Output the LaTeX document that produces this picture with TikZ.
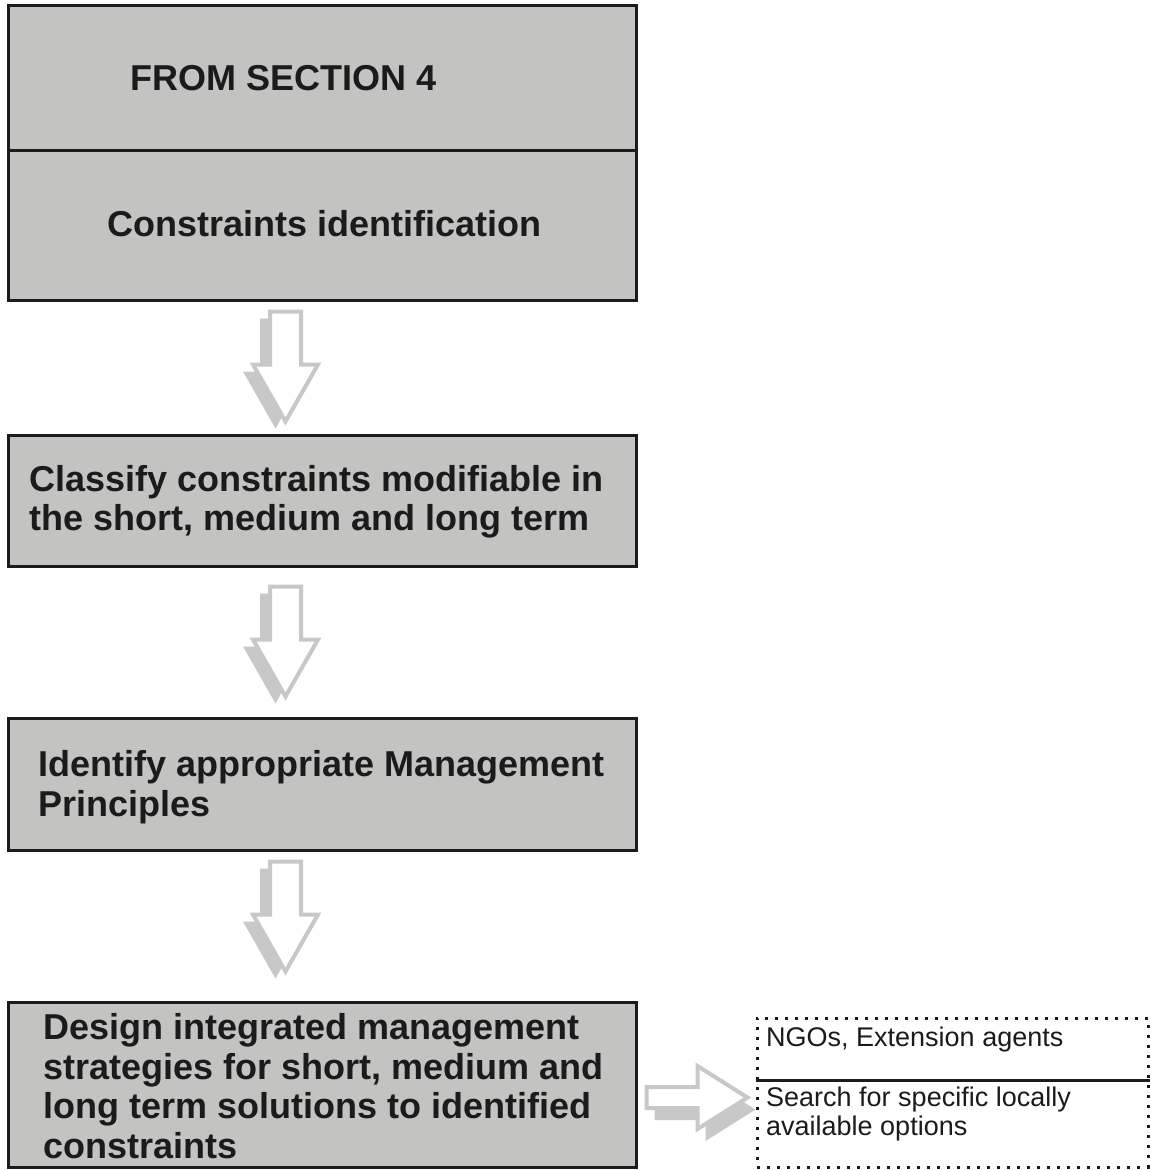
\documentclass[tikz,border=0pt]{standalone}
\usepackage{fontspec}
\setmainfont{Liberation Sans}
\definecolor{boxfill}{RGB}{195,195,193}
\definecolor{boxline}{RGB}{28,26,26}
\definecolor{agray}{RGB}{200,200,200}
\tikzset{
  stepbox/.style={draw=boxline, fill=boxfill, line width=3pt, inner sep=0pt},
  bigtext/.style={font=\fontsize{36pt}{39.5pt}\selectfont\bfseries, anchor=west, align=left, inner sep=0pt, text=boxline},
  smalltext/.style={font=\fontsize{27pt}{29pt}\selectfont, anchor=west, align=left, inner sep=0pt, text=boxline},
  dotbox/.style={draw=boxline, line width=3pt, dash pattern=on 3pt off 7pt, inner sep=0pt},
  downarr/.pic={
    \fill[agray, shift={(-10,7)}] (-15.5,2) -- (15.5,2) -- (15.5,55) -- (32.5,55) -- (0,112) -- (-32.5,55) -- (-15.5,55) -- cycle;
    \filldraw[fill=white, draw=agray, line width=4pt, line join=miter] (-15.5,2) -- (15.5,2) -- (15.5,55) -- (32.5,55) -- (0,112) -- (-32.5,55) -- (-15.5,55) -- cycle;
  },
  rightarr/.pic={
    \fill[agray, shift={(8,12)}] (2,-10.5) -- (53,-10.5) -- (53,-31.5) -- (103,0) -- (53,31.5) -- (53,10.5) -- (2,10.5) -- cycle;
    \filldraw[fill=white, draw=agray, line width=4pt, line join=miter] (2,-10.5) -- (53,-10.5) -- (53,-31.5) -- (103,0) -- (53,31.5) -- (53,10.5) -- (2,10.5) -- cycle;
  }
}
\begin{document}
\begin{tikzpicture}[x=1pt,y=-1pt]
\useasboundingbox (0,0) rectangle (1151,1170);
% boxes
\node[stepbox, minimum width=628pt, minimum height=145pt] (b1a) at (322,77.5) {};
\node[stepbox, minimum width=628pt, minimum height=150pt] (b1b) at (322,225) {};
\node[stepbox, minimum width=628pt, minimum height=131pt] (b2) at (322,500.5) {};
\node[stepbox, minimum width=628pt, minimum height=132pt] (b3) at (322,784) {};
\node[stepbox, minimum width=628pt, minimum height=165pt] (b4) at (322,1084.5) {};
% texts
\node[bigtext] (t1) at (130,78) {FROM SECTION 4};
\node[bigtext] (t2) at (107,224) {Constraints identification};
\node[bigtext] (t3) at (29,502) {Classify constraints modifiable in\\the short, medium and long term};
\node[bigtext] (t4) at (38,787) {Identify appropriate Management\\Principles};
\node[bigtext] (t5) at (43,1086) {Design integrated management\\strategies for short, medium and\\long term solutions to identified\\constraints};
% right dotted box
\node[dotbox, minimum width=391pt, minimum height=149pt] (r1) at (952.5,1092.5) {};
\draw[boxline, line width=3pt] (r1.west |- 0,1080) -- (r1.east |- 0,1080);
\node[smalltext] (r1a) at (766,1040) {NGOs, Extension agents};
\node[smalltext] (r1b) at (766,1114) {Search for specific locally\\available options};
% arrows
\coordinate (a1) at ([xshift=-36.5pt,yshift=-8pt]b1b.south);
\coordinate (a2) at ([xshift=-36.5pt,yshift=-17pt]b2.south);
\coordinate (a3) at ([xshift=-36.5pt,yshift=-8pt]b3.south);
\coordinate (a4) at ([xshift=7pt,yshift=-13pt]b4.east);
\pic at (a1) {downarr};
\pic at (a2) {downarr};
\pic at (a3) {downarr};
\pic at (a4) {rightarr};
\end{tikzpicture}
\end{document}
